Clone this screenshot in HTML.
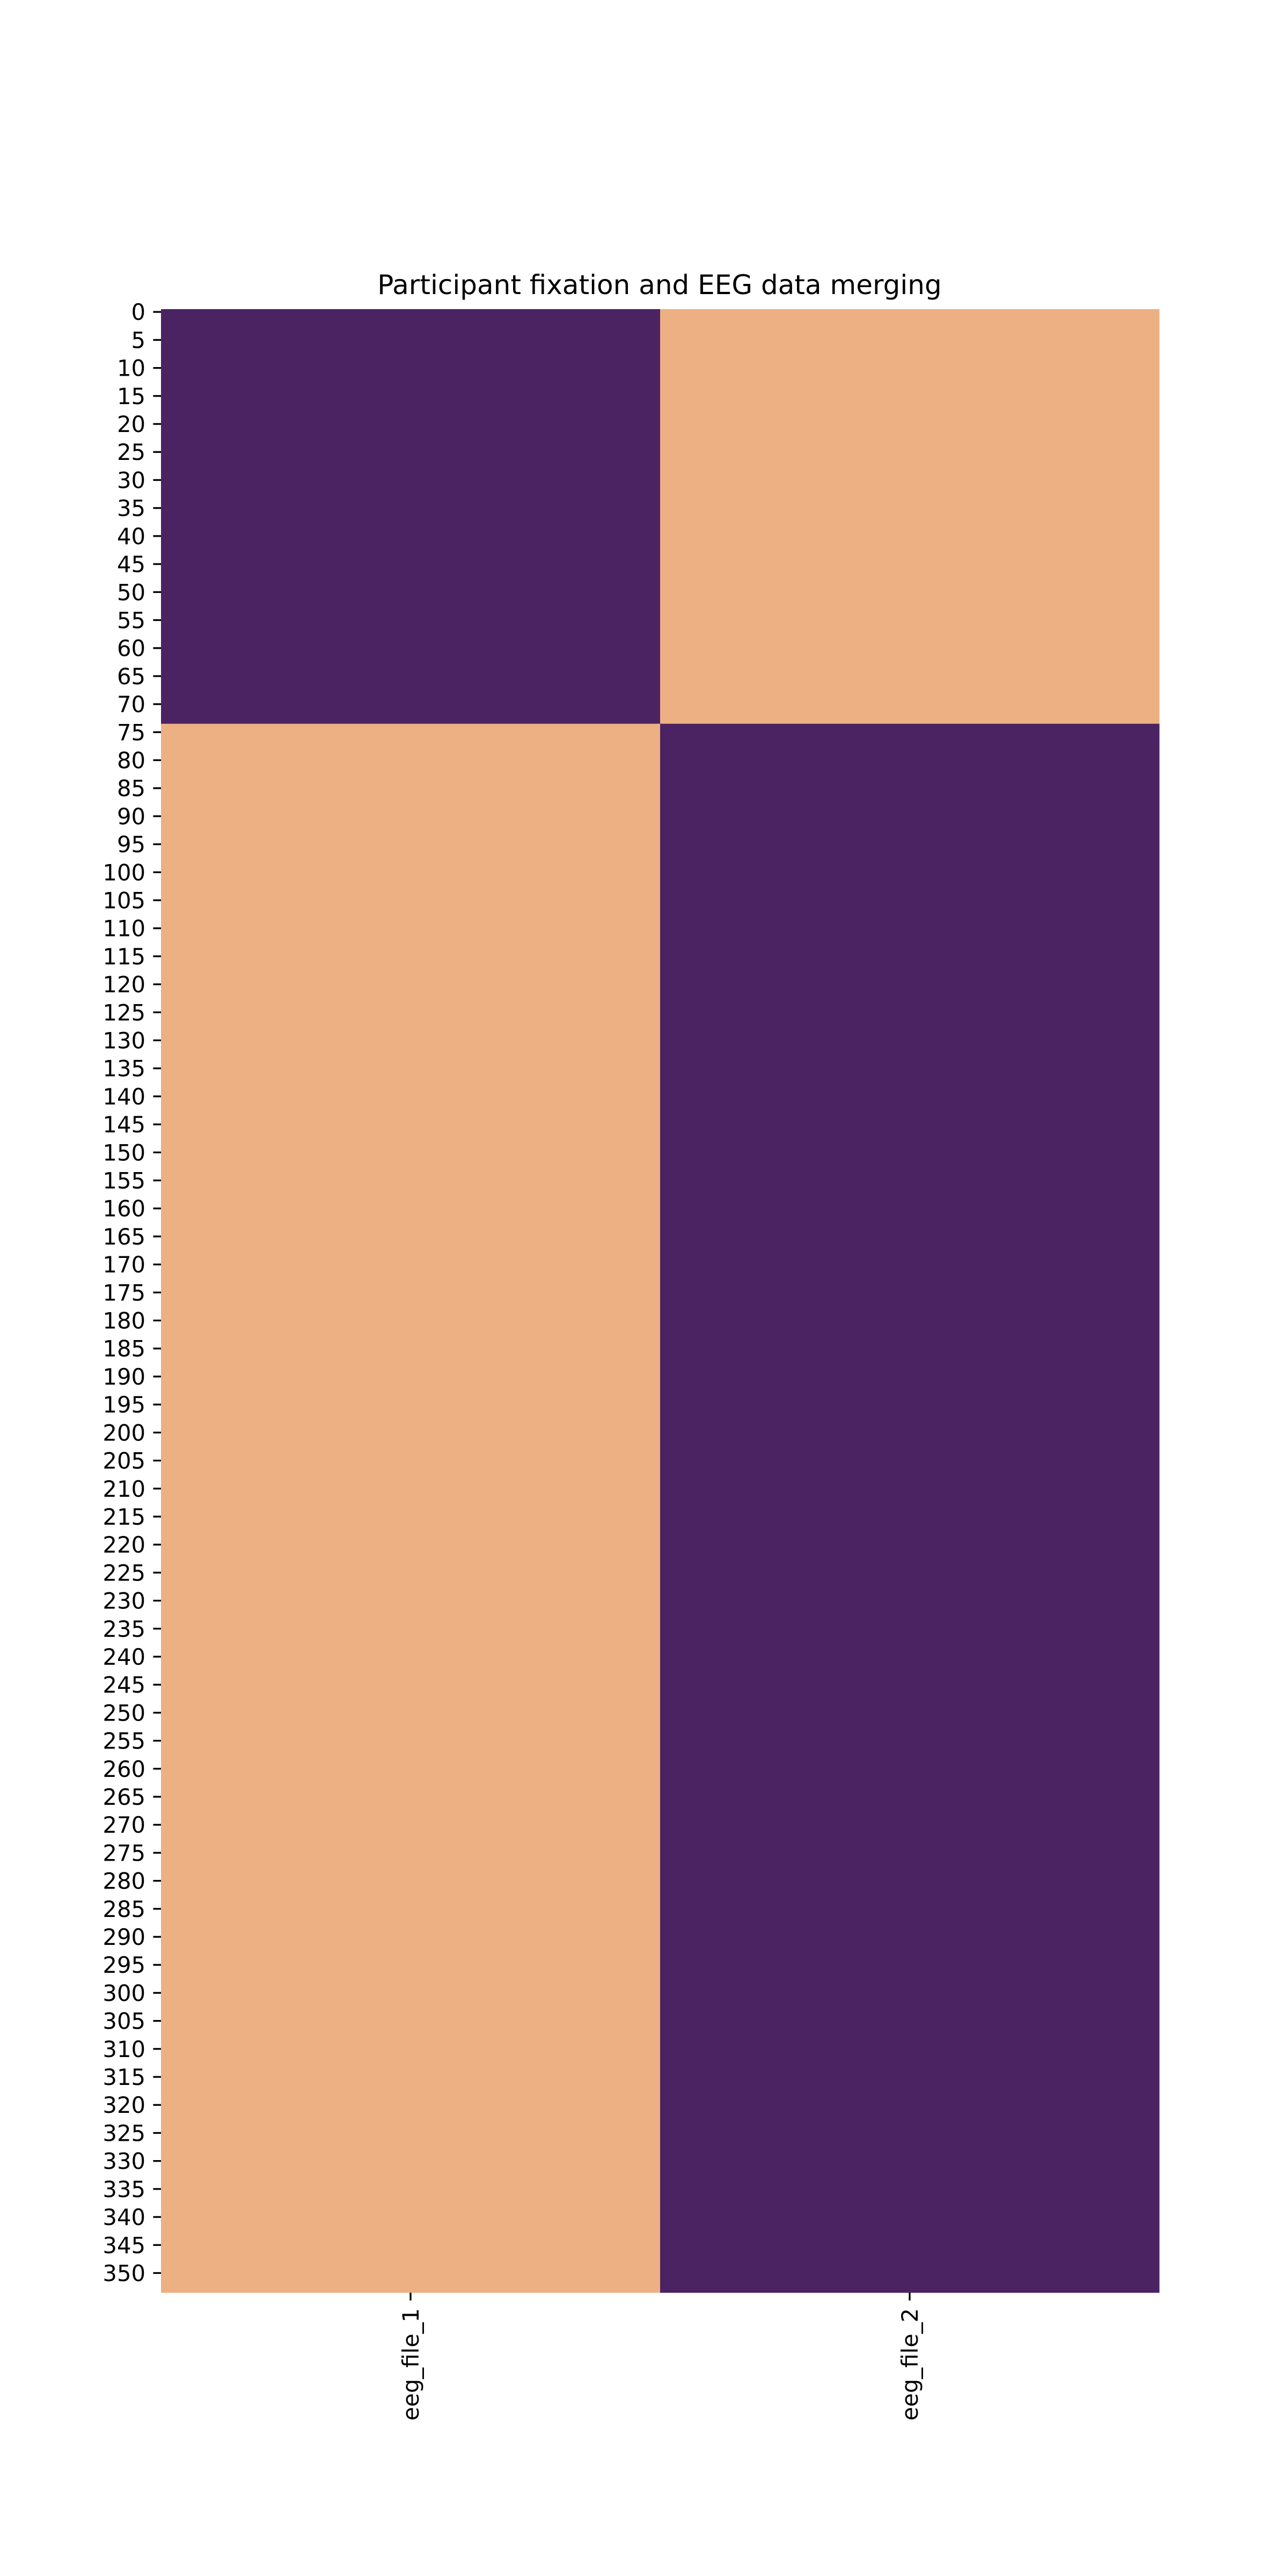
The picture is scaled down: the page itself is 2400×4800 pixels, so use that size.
<!DOCTYPE html>
<html><head><meta charset="utf-8"><style>
html,body{margin:0;padding:0;background:#fff;}
svg{display:block;}
text{font-family:"DejaVu Sans","Liberation Sans",sans-serif;fill:#000;}
</style></head><body>
<svg id="chart" width="2400" height="4800" viewBox="0 0 2400 4800" xmlns="http://www.w3.org/2000/svg">
<text x="1229" y="548" font-size="50" text-anchor="middle">Participant fixation and EEG data merging</text>
<g id="cells"></g>
<g id="yaxis"></g>
<g id="xaxis"></g>
</svg>
<script>
const columns = ["eeg_file_1", "eeg_file_2"];
const nRows = 354;
const switchRow = 74;
const col1Before = 0, col1After = 1;
const col2Before = 1, col2After = 0;
const yTickStep = 5;
const colors = ["#4b2362", "#ecb083"];

const L = 300, R = 2160, T = 576, B = 4272;
const NS = "http://www.w3.org/2000/svg";
const rowH = (B - T) / nRows;
const colW = (R - L) / columns.length;
const yS = r => T + r * rowH;
const xS = c => L + c * colW;

function val(c, r) {
  if (c === 0) return r < switchRow ? col1Before : col1After;
  return r < switchRow ? col2Before : col2After;
}

const cells = document.getElementById('cells');
for (let c = 0; c < columns.length; c++) {
  let start = 0;
  for (let r = 1; r <= nRows; r++) {
    if (r === nRows || val(c, r) !== val(c, start)) {
      const rect = document.createElementNS(NS, 'rect');
      
      
      rect.setAttribute('x', xS(c));
      rect.setAttribute('y', yS(start));
      rect.setAttribute('width', colW + 0.5);
      rect.setAttribute('height', yS(r) - yS(start) + 0.3);
      rect.setAttribute('fill', colors[val(c, start)]);
      cells.appendChild(rect);
      start = r;
    }
  }
}

const yaxis = document.getElementById('yaxis');
for (let r = 0; r < nRows; r += yTickStep) {
  const y = yS(r + 0.5);
  const tick = document.createElementNS(NS, 'line');
  
  
  tick.setAttribute('x1', L - 14.6); tick.setAttribute('x2', L);
  tick.setAttribute('y1', y); tick.setAttribute('y2', y);
  tick.setAttribute('stroke', '#000'); tick.setAttribute('stroke-width', 3.3);
  yaxis.appendChild(tick);
  const t = document.createElementNS(NS, 'text');
  
  
  t.setAttribute('x', L - 29);
  t.setAttribute('y', y + 15);
  t.setAttribute('font-size', 41.7);
  t.setAttribute('text-anchor', 'end');
  t.textContent = String(r);
  yaxis.appendChild(t);
}

const xaxis = document.getElementById('xaxis');
columns.forEach((name, c) => {
  const x = xS(c + 0.5);
  const tick = document.createElementNS(NS, 'line');
  
  
  tick.setAttribute('x1', x); tick.setAttribute('x2', x);
  tick.setAttribute('y1', B); tick.setAttribute('y2', B + 14.6);
  tick.setAttribute('stroke', '#000'); tick.setAttribute('stroke-width', 3.3);
  xaxis.appendChild(tick);
  const t = document.createElementNS(NS, 'text');
  
  
  t.setAttribute('font-size', 41.7);
  t.setAttribute('text-anchor', 'end');
  t.setAttribute('transform', 'translate(' + (x + 15) + ',' + (B + 29) + ') rotate(-90)');
  t.textContent = name;
  xaxis.appendChild(t);
});
</script>
</body></html>
